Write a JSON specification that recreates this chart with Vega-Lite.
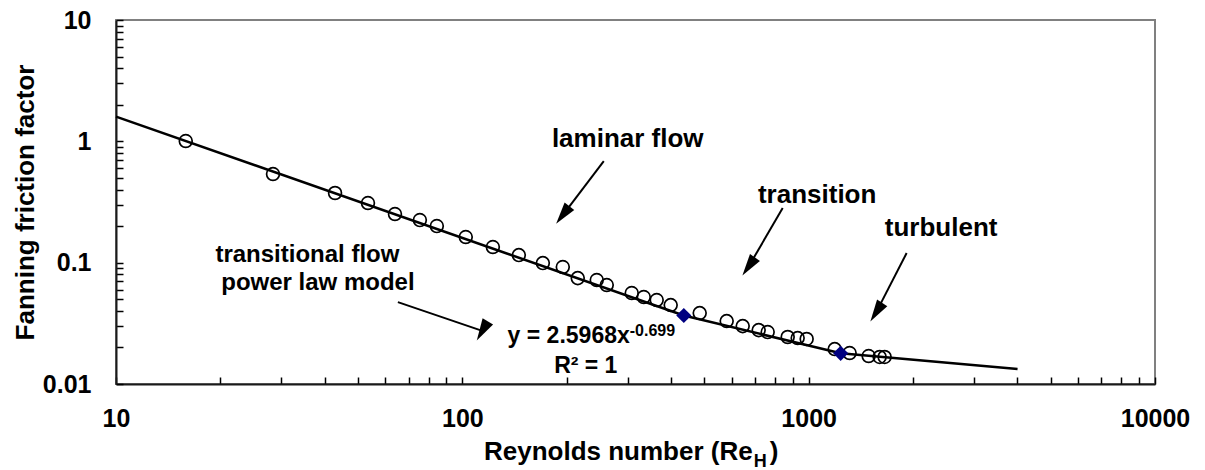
{
  "$schema": "https://vega.github.io/schema/vega-lite/v6.json",
  "width": 1039,
  "height": 364,
  "autosize": {"type": "none"},
  "padding": {"left": 116, "top": 20, "right": 50, "bottom": 86},
  "background": "white",
  "config": {
    "font": "Liberation Sans",
    "view": {"stroke": "#808080", "strokeWidth": 2},
    "text": {"font": "Liberation Sans", "fontWeight": "bold", "color": "black"}
  },
  "datasets": {
    "curve": [
      {"Re": 10, "f": 1.6},
      {"Re": 436, "f": 0.0367},
      {"Re": 1237, "f": 0.0179},
      {"Re": 4010, "f": 0.01327}
    ],
    "measured": [
      {"Re": 15.9, "f": 1.006},
      {"Re": 28.4, "f": 0.5375},
      {"Re": 42.9, "f": 0.375},
      {"Re": 53.4, "f": 0.31},
      {"Re": 63.9, "f": 0.2517},
      {"Re": 75.4, "f": 0.2245},
      {"Re": 84.4, "f": 0.2003},
      {"Re": 102.3, "f": 0.1626},
      {"Re": 122.5, "f": 0.1345},
      {"Re": 145.6, "f": 0.1155},
      {"Re": 170.8, "f": 0.0992},
      {"Re": 195.0, "f": 0.092},
      {"Re": 215.4, "f": 0.0746},
      {"Re": 244.4, "f": 0.0719},
      {"Re": 261.2, "f": 0.0654},
      {"Re": 308.4, "f": 0.0562},
      {"Re": 334.1, "f": 0.0521},
      {"Re": 364.1, "f": 0.0492},
      {"Re": 399.6, "f": 0.0447},
      {"Re": 484.6, "f": 0.0384},
      {"Re": 579.8, "f": 0.033},
      {"Re": 645.0, "f": 0.03},
      {"Re": 717.3, "f": 0.0278},
      {"Re": 761.5, "f": 0.0268},
      {"Re": 869.9, "f": 0.0244},
      {"Re": 929.5, "f": 0.0239},
      {"Re": 986.7, "f": 0.0235},
      {"Re": 1189, "f": 0.0194},
      {"Re": 1313, "f": 0.018},
      {"Re": 1490, "f": 0.017},
      {"Re": 1603, "f": 0.0167},
      {"Re": 1657, "f": 0.0167}
    ],
    "fitpoints": [
      {"Re": 436, "f": 0.0367},
      {"Re": 1237, "f": 0.0179}
    ],
    "labels": [
      {"text": "laminar flow", "Re": 300.3, "f": 0.897},
      {"text": "transition", "Re": 1058, "f": 0.31},
      {"text": "turbulent", "Re": 2413, "f": 0.1657}
    ],
    "modellabel": [
      {"text": "transitional flow", "Re": 35.7, "f": 0.1012},
      {"text": "power law model", "Re": 38.28, "f": 0.0594}
    ],
    "arrows": [
      {"name": "laminar", "Re": 256.1, "f": 0.688, "Re2": 195.0, "f2": 0.2469},
      {"name": "transition", "Re": 841.4, "f": 0.2818, "Re2": 671.1, "f2": 0.093},
      {"name": "turbulent", "Re": 1918, "f": 0.12, "Re2": 1567.5, "f2": 0.0391},
      {"name": "model", "Re": 65.15, "f": 0.0473, "Re2": 114.2, "f2": 0.0274}
    ]
  },
  "encoding": {
    "x": {
      "field": "Re",
      "type": "quantitative",
      "scale": {"type": "log", "domain": [10, 10000], "nice": false},
      "axis": {
        "title": null,
        "grid": false,
        "values": [10, 20, 30, 40, 50, 60, 70, 80, 90, 100, 200, 300, 400, 500, 600, 700, 800, 900, 1000, 2000, 3000, 4000, 5000, 6000, 7000, 8000, 9000, 10000],
        "labelExpr": "abs(log(datum.value)/LN10 - round(log(datum.value)/LN10)) < 0.001 ? format(datum.value, '~g') : ''",
        "labelOverlap": false,
        "labelFlush": false,
        "labelBound": false,
        "labelFont": "Liberation Sans",
        "labelFontWeight": "bold",
        "labelFontSize": 25,
        "labelColor": "black",
        "labelPadding": 29,
        "tickSize": -7,
        "tickColor": "black",
        "tickWidth": 1.5,
        "domainColor": "#1a1a1a",
        "domainWidth": 2
      }
    },
    "y": {
      "field": "f",
      "type": "quantitative",
      "scale": {"type": "log", "domain": [0.01, 10], "nice": false},
      "axis": {
        "title": "Fanning friction factor",
        "titleFont": "Liberation Sans",
        "titleFontWeight": "bold",
        "titleFontSize": 26,
        "titleColor": "black",
        "titleAngle": 270,
        "titleAlign": "center",
        "titleBaseline": "alphabetic",
        "titleX": -83,
        "titleY": 182,
        "grid": false,
        "values": [0.01, 0.02, 0.03, 0.04, 0.05, 0.06, 0.07, 0.08, 0.09, 0.1, 0.2, 0.3, 0.4, 0.5, 0.6, 0.7, 0.8, 0.9, 1, 2, 3, 4, 5, 6, 7, 8, 9, 10],
        "labelExpr": "abs(log(datum.value)/LN10 - round(log(datum.value)/LN10)) < 0.001 ? format(datum.value, '~g') : ''",
        "labelOverlap": false,
        "labelFlush": false,
        "labelBound": false,
        "labelFont": "Liberation Sans",
        "labelFontWeight": "bold",
        "labelFontSize": 25,
        "labelColor": "black",
        "labelPadding": 32,
        "tickSize": -7,
        "tickColor": "black",
        "tickWidth": 1.5,
        "domainColor": "#1a1a1a",
        "domainWidth": 2
      }
    }
  },
  "layer": [
    {
      "data": {"name": "curve"},
      "mark": {"type": "line", "color": "black", "strokeWidth": 2.5}
    },
    {
      "data": {"name": "measured"},
      "mark": {"type": "point", "shape": "circle", "filled": false, "stroke": "black", "strokeWidth": 1.7, "size": 165, "opacity": 1}
    },
    {
      "data": {"name": "fitpoints"},
      "mark": {"type": "point", "shape": "diamond", "filled": true, "color": "#000080", "size": 230, "opacity": 1}
    },
    {
      "data": {"name": "arrows"},
      "mark": {"type": "rule", "color": "black", "strokeWidth": 2},
      "encoding": {
        "x2": {"field": "Re2"},
        "y2": {"field": "f2"}
      }
    },
    {
      "data": {"name": "arrows"},
      "mark": {"type": "point", "shape": "M0,-1L0.55,1L-0.55,1Z", "filled": true, "color": "black", "size": 484, "opacity": 1, "strokeWidth": 0},
      "encoding": {
        "x": {"field": "Re2", "type": "quantitative"},
        "y": {"field": "f2", "type": "quantitative"},
        "angle": {
          "field": "name",
          "type": "nominal",
          "scale": {"domain": ["laminar", "transition", "turbulent", "model"], "range": [217.2, 210.2, 207.2, 108.8]},
          "legend": null
        }
      }
    },
    {
      "data": {"name": "labels"},
      "mark": {"type": "text", "fontSize": 26, "align": "center", "baseline": "alphabetic"},
      "encoding": {"text": {"field": "text"}}
    },
    {
      "data": {"name": "modellabel"},
      "mark": {"type": "text", "fontSize": 24, "align": "center", "baseline": "alphabetic"},
      "encoding": {"text": {"field": "text"}}
    },
    {
      "data": {"values": [{"text": "y = 2.5968x", "Re": 304.4, "f": 0.02174}]},
      "mark": {"type": "text", "fontSize": 23, "align": "right", "baseline": "alphabetic"},
      "encoding": {"text": {"field": "text"}}
    },
    {
      "data": {"values": [{"text": "-0.699", "Re": 304.4, "f": 0.02483}]},
      "mark": {"type": "text", "fontSize": 16, "align": "left", "baseline": "alphabetic"},
      "encoding": {"text": {"field": "text"}}
    },
    {
      "data": {"values": [{"text": "R² = 1", "Re": 227.2, "f": 0.0123}]},
      "mark": {"type": "text", "fontSize": 23, "align": "center", "baseline": "alphabetic"},
      "encoding": {"text": {"field": "text"}}
    },
    {
      "data": {"values": [{"text": "Reynolds number (Re", "Re": 689.2, "f": 0.002359}]},
      "mark": {"type": "text", "fontSize": 26, "align": "right", "baseline": "alphabetic"},
      "encoding": {"text": {"field": "text"}}
    },
    {
      "data": {"values": [{"text": "H", "Re": 693.7, "f": 0.002064}]},
      "mark": {"type": "text", "fontSize": 18, "align": "left", "baseline": "alphabetic"},
      "encoding": {"text": {"field": "text"}}
    },
    {
      "data": {"values": [{"text": ")", "Re": 771.6, "f": 0.002359}]},
      "mark": {"type": "text", "fontSize": 26, "align": "left", "baseline": "alphabetic"},
      "encoding": {"text": {"field": "text"}}
    }
  ]
}
